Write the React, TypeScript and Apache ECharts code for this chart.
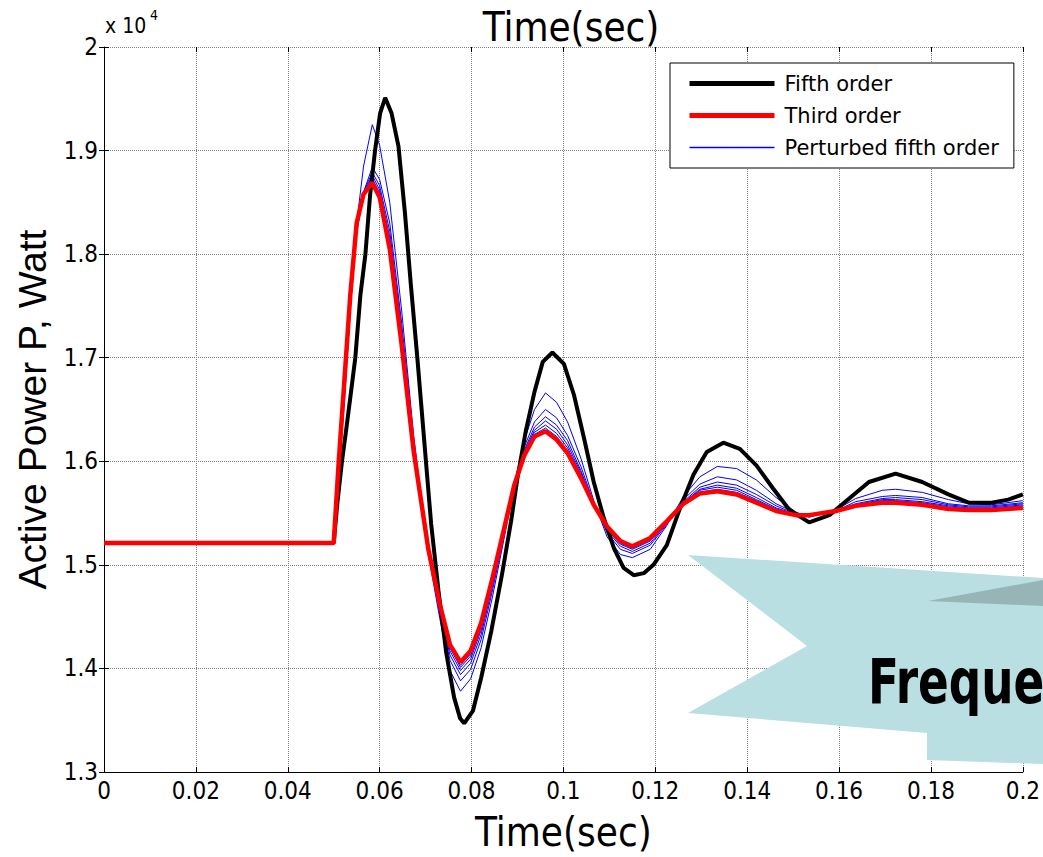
import React, { useEffect, useRef } from 'react';
import * as echarts from 'echarts';

// ---- data (power in units of 10^4 W) ----
const thirdTime = [
  0, 0.05, 0.0511, 0.0524, 0.0536, 0.055, 0.0565, 0.0584, 0.06, 0.0622,
  0.0648, 0.0674, 0.0706, 0.0731, 0.0753, 0.0776, 0.0798, 0.0821, 0.0846, 0.0872,
  0.0893, 0.0915, 0.0937, 0.0961, 0.0985, 0.1009, 0.1038, 0.1066, 0.1095, 0.1124,
  0.115, 0.1189, 0.1225, 0.1261, 0.1297, 0.1335, 0.1377, 0.142, 0.1463, 0.1506,
  0.1535, 0.1593, 0.1636, 0.1694, 0.1723, 0.1781, 0.1838, 0.1882, 0.1932, 0.2,
];

const thirdOrder = [
  1.521, 1.521, 1.6, 1.683, 1.76, 1.83, 1.858, 1.869, 1.855, 1.805,
  1.712, 1.61, 1.515, 1.462, 1.423, 1.406, 1.417, 1.444, 1.488, 1.537,
  1.577, 1.606, 1.624, 1.629, 1.621, 1.608, 1.584, 1.558, 1.537, 1.523,
  1.518, 1.526, 1.542, 1.559, 1.569, 1.571, 1.568, 1.56, 1.552, 1.548,
  1.548, 1.552, 1.557, 1.56, 1.56, 1.558, 1.554, 1.553, 1.553, 1.555,
];

const perturbed1 = [
  1.521, 1.521, 1.585, 1.662, 1.745, 1.83, 1.885, 1.925, 1.905, 1.85,
  1.745, 1.625, 1.51, 1.448, 1.398, 1.378, 1.39, 1.42, 1.47, 1.528,
  1.578, 1.62, 1.65, 1.666, 1.657, 1.638, 1.603, 1.562, 1.527, 1.51,
  1.507, 1.515, 1.538, 1.566, 1.585, 1.595, 1.593, 1.582, 1.565, 1.551,
  1.546, 1.553, 1.564, 1.572, 1.573, 1.57, 1.563, 1.559, 1.558, 1.562,
];
const perturbed2 = [
  1.521, 1.521, 1.59, 1.668, 1.748, 1.82, 1.86, 1.884, 1.872, 1.83,
  1.733, 1.62, 1.512, 1.453, 1.408, 1.388, 1.399, 1.428, 1.476, 1.531,
  1.578, 1.614, 1.638, 1.65, 1.642, 1.625, 1.595, 1.56, 1.531, 1.515,
  1.511, 1.519, 1.539, 1.563, 1.578, 1.585, 1.582, 1.572, 1.559, 1.55,
  1.547, 1.552, 1.561, 1.566, 1.567, 1.565, 1.559, 1.557, 1.557, 1.56,
];
const perturbed3 = [
  1.521, 1.521, 1.593, 1.672, 1.752, 1.823, 1.86, 1.879, 1.866, 1.822,
  1.726, 1.617, 1.513, 1.456, 1.413, 1.394, 1.405, 1.433, 1.48, 1.533,
  1.577, 1.611, 1.633, 1.643, 1.635, 1.62, 1.591, 1.559, 1.533, 1.518,
  1.513, 1.521, 1.54, 1.561, 1.575, 1.58, 1.577, 1.568, 1.557, 1.549,
  1.547, 1.552, 1.559, 1.564, 1.565, 1.563, 1.558, 1.556, 1.556, 1.559,
];
const perturbed4 = [
  1.521, 1.521, 1.595, 1.676, 1.755, 1.826, 1.859, 1.876, 1.862, 1.816,
  1.721, 1.615, 1.514, 1.458, 1.417, 1.398, 1.409, 1.437, 1.483, 1.534,
  1.577, 1.609, 1.63, 1.639, 1.631, 1.616, 1.589, 1.559, 1.534, 1.52,
  1.515, 1.523, 1.541, 1.56, 1.573, 1.577, 1.574, 1.565, 1.555, 1.549,
  1.548, 1.552, 1.558, 1.563, 1.563, 1.561, 1.557, 1.555, 1.555, 1.558,
];
const perturbed5 = [
  1.521, 1.521, 1.597, 1.679, 1.757, 1.828, 1.859, 1.873, 1.859, 1.811,
  1.717, 1.613, 1.514, 1.46, 1.42, 1.401, 1.412, 1.44, 1.485, 1.535,
  1.577, 1.608, 1.628, 1.635, 1.627, 1.613, 1.587, 1.558, 1.535, 1.521,
  1.516, 1.524, 1.541, 1.56, 1.572, 1.575, 1.572, 1.563, 1.554, 1.548,
  1.548, 1.552, 1.558, 1.562, 1.562, 1.56, 1.556, 1.554, 1.554, 1.557,
];
const perturbed6 = [
  1.521, 1.521, 1.598, 1.681, 1.759, 1.829, 1.858, 1.871, 1.857, 1.808,
  1.714, 1.611, 1.515, 1.461, 1.422, 1.403, 1.414, 1.442, 1.487, 1.536,
  1.577, 1.607, 1.626, 1.632, 1.624, 1.61, 1.585, 1.558, 1.536, 1.522,
  1.517, 1.525, 1.542, 1.559, 1.57, 1.573, 1.57, 1.562, 1.553, 1.548,
  1.548, 1.552, 1.557, 1.561, 1.561, 1.559, 1.555, 1.554, 1.554, 1.556,
];
const perturbedSets = [perturbed1, perturbed2, perturbed3, perturbed4, perturbed5, perturbed6];

const fifthTime = [
  0, 0.05, 0.0508, 0.0518, 0.0527, 0.0536, 0.0547, 0.0558, 0.0569, 0.0579,
  0.059, 0.0601, 0.0612, 0.0626, 0.0641, 0.0655, 0.0668, 0.0682, 0.0697, 0.0712,
  0.0728, 0.0745, 0.0762, 0.0775, 0.0784, 0.0803, 0.0821, 0.0843, 0.0866, 0.0886,
  0.09, 0.0918, 0.0937, 0.0955, 0.0976, 0.1001, 0.1023, 0.1045, 0.1066, 0.1088,
  0.111, 0.1131, 0.1153, 0.1175, 0.1196, 0.1225, 0.1254, 0.1283, 0.1312, 0.1348,
  0.1384, 0.142, 0.1456, 0.1492, 0.1535, 0.1579, 0.1622, 0.1665, 0.1723, 0.1781,
  0.1838, 0.1882, 0.1932, 0.1968, 0.2,
];
const fifthOrder = [
  1.521, 1.521, 1.56, 1.6, 1.63, 1.661, 1.7, 1.76, 1.8, 1.856,
  1.9, 1.936, 1.951, 1.936, 1.904, 1.84, 1.77, 1.7, 1.62, 1.54,
  1.475, 1.415, 1.372, 1.352, 1.347, 1.359, 1.391, 1.436, 1.49, 1.542,
  1.584, 1.629, 1.667, 1.696, 1.705, 1.694, 1.664, 1.622, 1.58, 1.545,
  1.516, 1.497, 1.49, 1.492, 1.5, 1.519, 1.555, 1.587, 1.609, 1.618,
  1.612, 1.596, 1.574, 1.553, 1.541, 1.548, 1.564, 1.58, 1.588, 1.58,
  1.568, 1.56, 1.56, 1.563, 1.568,
];

const legendNames = ['Fifth order', 'Third order', 'Perturbed fifth order'];
const legendWidths = [5, 5, 1.3];
const legendColors = ['#000000', '#ff0000', '#0000ff'];

const NARROW = "'Liberation Sans Narrow', 'DejaVu Sans Condensed', 'Liberation Sans', sans-serif";

const zip = (t: number[], v: number[]) => t.map((x, i) => [x, v[i]]);

export default function App() {
  const ref = useRef<HTMLDivElement>(null);

  useEffect(() => {
    document.body.style.margin = '0';
    const chart = echarts.init(ref.current!, null, { renderer: 'svg' });

    const blueSeries = perturbedSets.map((vals) => ({
      name: legendNames[2],
      type: 'line',
      data: zip(thirdTime, vals),
      showSymbol: false,
      symbol: 'none',
      itemStyle: { color: '#0000ff' },
      lineStyle: { width: 1, color: '#0000ff' },
      z: 2,
      silent: true,
    }));

    const option: any = {
      animation: false,
      backgroundColor: '#ffffff',
      color: ['#0000ff'],
      title: {
        text: 'Time(sec)',
        left: 566,
        textAlign: 'center',
        top: 2,
        textStyle: { fontFamily: NARROW, fontSize: 40, fontWeight: 'normal', color: '#000' },
      },
      grid: { left: 104, right: 15, top: 47, bottom: 82, containLabel: false },
      legend: {
        data: legendNames.map((name, i) => ({
          name,
          itemStyle: { color: legendColors[i], opacity: 0 },
          lineStyle: { width: legendWidths[i], color: legendColors[i], opacity: 1 },
        })),
        orient: 'vertical',
        left: 670,
        top: 63,
        itemWidth: 85,
        itemHeight: 20,
        itemGap: 11,
        padding: [10, 15, 10, 17],
        borderColor: '#000',
        borderWidth: 1,
        backgroundColor: '#fff',
        selectedMode: false,
        textStyle: { fontFamily: "'DejaVu Sans', sans-serif", fontSize: 21, color: '#000', padding: [0, 0, 0, 5] },
        z: 10,
      },
      xAxis: [
        {
          type: 'value',
          min: 0,
          max: 0.2,
          interval: 0.02,
          name: 'Time(sec)',
          nameLocation: 'middle',
          nameGap: 40,
          nameTextStyle: { fontFamily: NARROW, fontSize: 40, color: '#000' },
          axisLine: { show: true, lineStyle: { color: '#000', width: 1 } },
          axisTick: { show: true, inside: true, length: 5, lineStyle: { color: '#000' } },
          axisLabel: { fontFamily: NARROW, fontSize: 24, color: '#000', margin: 7 },
          splitLine: { show: true, lineStyle: { color: '#808080', type: 'dotted', width: 1 } },
        },
        {
          type: 'value',
          position: 'top',
          min: 0,
          max: 0.2,
          interval: 0.02,
          axisLine: { show: false },
          axisTick: { show: true, inside: true, length: 5, lineStyle: { color: '#000' } },
          axisLabel: { show: false },
          splitLine: { show: false },
        },
      ],
      yAxis: [
        {
          type: 'value',
          min: 1.3,
          max: 2.0,
          interval: 0.1,
          name: 'Active Power P, Watt',
          nameLocation: 'middle',
          nameRotate: 90,
          nameGap: 52,
          nameTextStyle: { fontFamily: "'Liberation Sans', Arial, sans-serif", fontSize: 39, color: '#000' },
          axisLine: { show: true, lineStyle: { color: '#000', width: 1 } },
          axisTick: { show: true, inside: true, length: 5, lineStyle: { color: '#000' } },
          axisLabel: { fontFamily: NARROW, fontSize: 24, color: '#000', margin: 6 },
          splitLine: { show: true, lineStyle: { color: '#808080', type: 'dotted', width: 1 } },
        },
        {
          type: 'value',
          position: 'right',
          min: 1.3,
          max: 2.0,
          interval: 0.1,
          axisLine: { show: false },
          axisTick: { show: true, inside: true, length: 5, lineStyle: { color: '#000' } },
          axisLabel: { show: false },
          splitLine: { show: false },
        },
      ],
      series: [
        ...blueSeries,
        {
          name: legendNames[0],
          type: 'line',
          data: zip(fifthTime, fifthOrder),
          showSymbol: false,
          symbol: 'none',
          itemStyle: { color: '#000000' },
          lineStyle: { width: 4, color: '#000000' },
          z: 3,
          silent: true,
        },
        {
          name: legendNames[1],
          type: 'line',
          data: zip(thirdTime, thirdOrder),
          showSymbol: false,
          symbol: 'none',
          itemStyle: { color: '#ff0000' },
          lineStyle: { width: 4.5, color: '#ff0000' },
          z: 4,
          silent: true,
        },
      ],
      graphic: [
        {
          type: 'text',
          left: 105,
          top: 15,
          style: { text: 'x 10', fontFamily: NARROW, fontSize: 21, fill: '#000' },
          z: 5,
        },
        {
          type: 'text',
          left: 150,
          top: 8,
          style: { text: '4', fontFamily: NARROW, fontSize: 14, fill: '#000' },
          z: 5,
        },
        {
          type: 'polygon',
          shape: {
            points: [
              [688, 555], [1043, 578], [1043, 764], [927, 760], [927, 733], [688, 713], [807, 646],
            ],
          },
          style: { fill: '#badfe2' },
          z: 100,
        },
        {
          type: 'polygon',
          shape: { points: [[928, 601], [1043, 580], [1043, 606]] },
          style: { fill: '#97b5b7' },
          z: 101,
        },
        {
          type: 'text',
          x: 868,
          y: 712,
          scaleX: 0.8,
          style: {
            text: 'Freque',
            fontFamily: NARROW,
            fontSize: 63,
            fontWeight: 'bold',
            fill: '#000',
            verticalAlign: 'bottom',
          },
          z: 102,
        },
      ],
    };

    chart.setOption(option);
    return () => chart.dispose();
  }, []);

  return <div ref={ref} style={{ width: 1043, height: 857, background: '#fff' }} />;
}
